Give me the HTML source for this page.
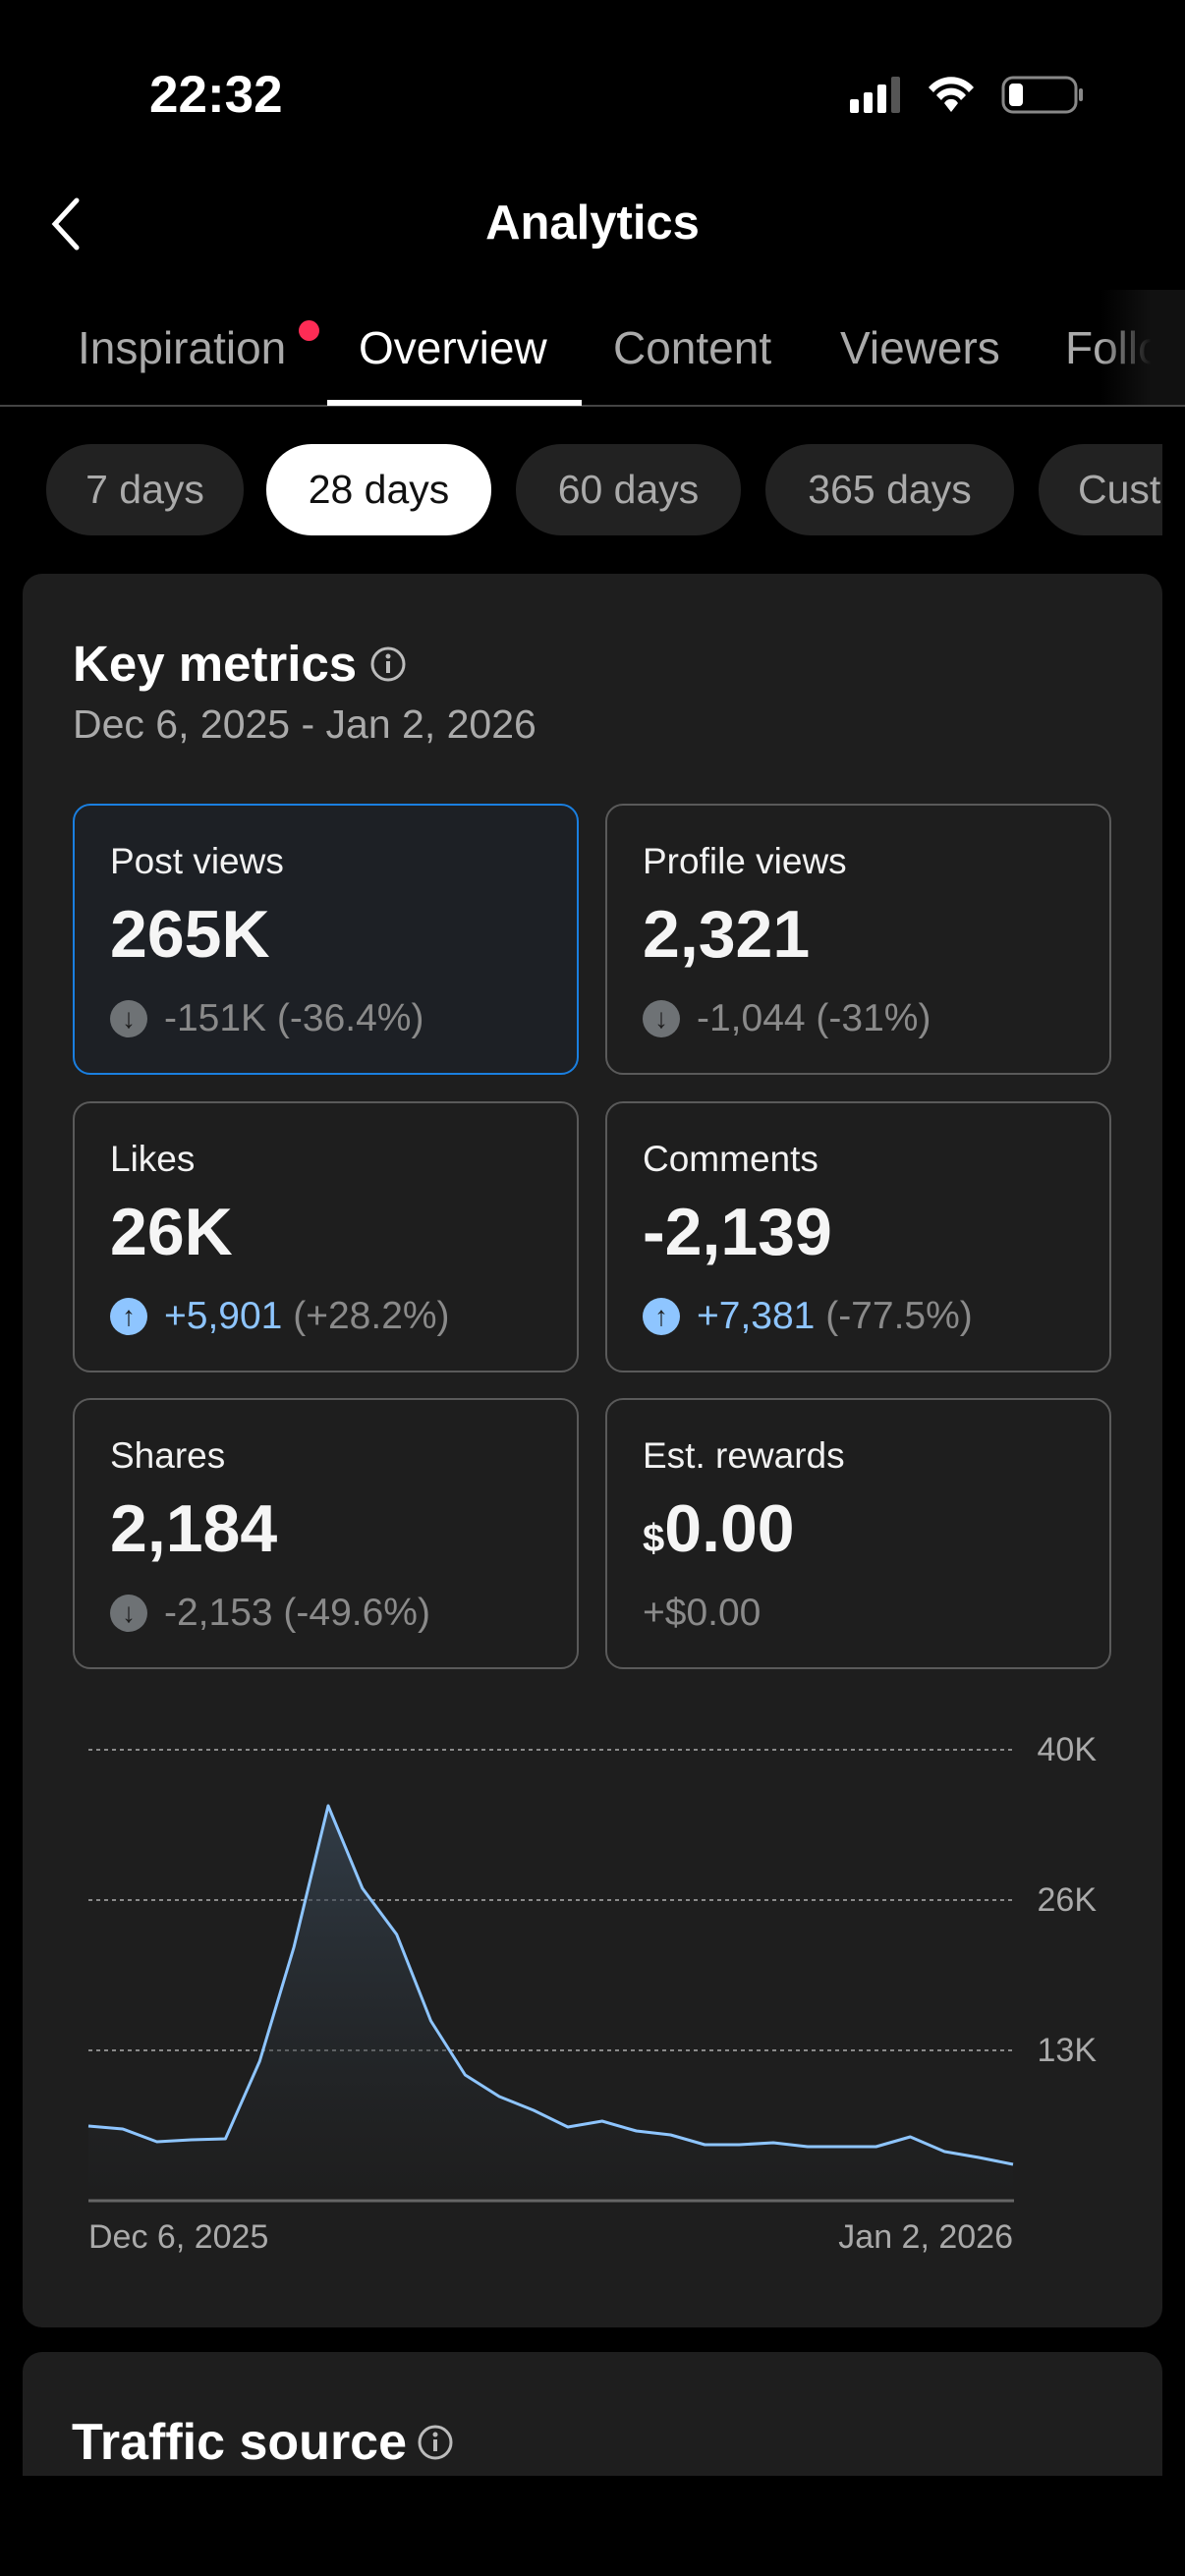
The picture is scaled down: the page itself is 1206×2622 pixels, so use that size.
<!DOCTYPE html>
<html><head><meta charset="utf-8"><style>
*{margin:0;padding:0;box-sizing:border-box}
body{width:1206px;height:2622px;background:#000;position:relative;overflow:hidden;font-family:"Liberation Sans",sans-serif;color:#fff}
.t{position:absolute;white-space:nowrap;line-height:1.2}
.pill{position:absolute;top:452px;height:93px;border-radius:46px;background:#222;color:#aaa;font-size:41px;display:flex;align-items:center;justify-content:center}
.box{position:absolute;width:515px;height:276px;border:2px solid #5a5a5a;border-radius:18px}
.box .l{position:absolute;left:36px;top:36px;font-size:37px;color:#f2f2f2}
.box .v{position:absolute;left:36px;top:92px;font-size:68px;font-weight:bold;color:#f5f5f5}
.box .d{position:absolute;left:36px;top:195px;font-size:39px;color:#8a8a8a;display:flex;align-items:center}
.ic{width:38px;height:38px;border-radius:50%;display:inline-flex;align-items:center;justify-content:center;margin-right:17px;font-size:28px;font-weight:bold}
.dn{background:#6e7275;color:#1e1e1e}
.up{background:#8ec5ff;color:#1e1e1e}
</style></head><body>
<div class="t" style="left:152px;top:65px;font-size:53px;font-weight:bold">22:32</div>
<svg style="position:absolute;left:860px;top:75px" width="250" height="45">
<rect x="5" y="26" width="9" height="14" rx="2" fill="#fff"/><rect x="19" y="19" width="9" height="21" rx="2" fill="#fff"/><rect x="33" y="11" width="9" height="29" rx="2" fill="#fff"/><rect x="47" y="3" width="9" height="37" rx="2" fill="#555"/>
<path d="M85 14 a30 30 0 0 1 46 0 l-5 5 a23 23 0 0 0 -36 0z M93 22 a19 19 0 0 1 30 0 l-5 5 a12 12 0 0 0 -20 0z M101 30 a8 8 0 0 1 14 0 l-7 9z" fill="#fff"/>
<rect x="161" y="4" width="74" height="35" rx="10" fill="none" stroke="#888" stroke-width="3"/><rect x="167" y="10" width="14" height="23" rx="4" fill="#fff"/><rect x="238" y="15" width="4" height="13" rx="2" fill="#888"/>
</svg>
<svg style="position:absolute;left:48px;top:200px" width="40" height="56"><path d="M30 4 L8 28 L30 52" fill="none" stroke="#fff" stroke-width="5" stroke-linecap="round"/></svg>
<div class="t" style="left:0;width:1206px;text-align:center;top:198px;font-size:49px;font-weight:bold">Analytics</div>
<div class="t" style="left:79px;top:327px;font-size:46px;color:#aaa">Inspiration</div>
<div style="position:absolute;left:304px;top:326px;width:21px;height:21px;border-radius:50%;background:#fe2c55"></div>
<div class="t" style="left:365px;top:327px;font-size:46px;color:#fff">Overview</div>
<div class="t" style="left:624px;top:327px;font-size:46px;color:#aaa">Content</div>
<div class="t" style="left:855px;top:327px;font-size:46px;color:#aaa">Viewers</div>
<div class="t" style="left:1084px;top:327px;font-size:46px;color:#aaa">Follow</div>
<div style="position:absolute;left:1120px;top:295px;width:86px;height:118px;background:linear-gradient(90deg,rgba(0,0,0,0),#111 60%)"></div>
<div style="position:absolute;left:0;top:412px;width:1206px;height:2px;background:#444"></div>
<div style="position:absolute;left:333px;top:407px;width:259px;height:6px;background:#fff"></div>
<div class="pill" style="left:47px;width:201px">7 days</div>
<div class="pill" style="left:271px;width:229px;background:#fff;color:#111">28 days</div>
<div class="pill" style="left:525px;width:229px">60 days</div>
<div class="pill" style="left:779px;width:253px">365 days</div>
<div class="pill" style="left:1057px;width:200px;justify-content:flex-start;padding-left:40px;border-radius:46px 0 0 46px">Cust</div>
<div style="position:absolute;left:1183px;top:440px;width:23px;height:120px;background:#000"></div>
<div style="position:absolute;left:23px;top:584px;width:1160px;height:1785px;background:#1e1e1e;border-radius:20px"></div>
<div class="t" style="left:74px;top:645px;font-size:51px;font-weight:bold">Key metrics</div>
<svg style="position:absolute;left:376px;top:657px" width="38" height="38"><circle cx="19" cy="19" r="16" fill="none" stroke="#bbb" stroke-width="3"/><rect x="17" y="16" width="4" height="12" fill="#bbb"/><circle cx="19" cy="11" r="2.5" fill="#bbb"/></svg>
<div class="t" style="left:74px;top:713px;font-size:41px;color:#aaa">Dec 6, 2025 - Jan 2, 2026</div>
<div class="box" style="left:74px;top:818px;border-color:#1a7fe0;background:#1d2025"><div class="l">Post views</div><div class="v">265K</div><div class="d"><span class="ic dn">↓</span>-151K (-36.4%)</div></div>
<div class="box" style="left:616px;top:818px"><div class="l">Profile views</div><div class="v">2,321</div><div class="d"><span class="ic dn">↓</span>-1,044 (-31%)</div></div>
<div class="box" style="left:74px;top:1121px"><div class="l">Likes</div><div class="v">26K</div><div class="d"><span class="ic up">↑</span><span style="color:#8ec5ff">+5,901</span>&nbsp;(+28.2%)</div></div>
<div class="box" style="left:616px;top:1121px"><div class="l">Comments</div><div class="v">-2,139</div><div class="d"><span class="ic up">↑</span><span style="color:#8ec5ff">+7,381</span>&nbsp;(-77.5%)</div></div>
<div class="box" style="left:74px;top:1423px"><div class="l">Shares</div><div class="v">2,184</div><div class="d"><span class="ic dn">↓</span>-2,153 (-49.6%)</div></div>
<div class="box" style="left:616px;top:1423px"><div class="l">Est. rewards</div><div class="v"><span style="font-size:40px">$</span>0.00</div><div class="d">+$0.00</div></div>
<svg style="position:absolute;left:0;top:0" width="1206" height="2622">
<defs><linearGradient id="g" x1="0" y1="0" x2="0" y2="1"><stop offset="0" stop-color="#3a4a5a" stop-opacity="0.7"/><stop offset="1" stop-color="#1e1e1e" stop-opacity="0.3"/></linearGradient></defs>
<g stroke="#8a8a8a" stroke-width="2" stroke-dasharray="4 4"><line x1="90" y1="1781" x2="1032" y2="1781"/><line x1="90" y1="1934" x2="1032" y2="1934"/><line x1="90" y1="2087" x2="1032" y2="2087"/></g>
<polygon fill="url(#g)" points="90,2240 90,2164 124.9,2167 159.7,2180 194.6,2178 229.4,2177 264.3,2098 299.1,1982 334,1838 368.8,1922 403.7,1969 438.5,2057 473.4,2112 508.2,2134 543.1,2148 577.9,2165 612.8,2159 647.6,2169 682.5,2173 717.3,2183 752.2,2183 787,2181 821.9,2185 856.7,2185 891.6,2185 926.4,2175 961.3,2190 996.1,2196 1031,2203 1031,2240"/>
<polyline fill="none" stroke="#8ec5ff" stroke-width="3" stroke-linejoin="round" points="90,2164 124.9,2167 159.7,2180 194.6,2178 229.4,2177 264.3,2098 299.1,1982 334,1838 368.8,1922 403.7,1969 438.5,2057 473.4,2112 508.2,2134 543.1,2148 577.9,2165 612.8,2159 647.6,2169 682.5,2173 717.3,2183 752.2,2183 787,2181 821.9,2185 856.7,2185 891.6,2185 926.4,2175 961.3,2190 996.1,2196 1031,2203"/>
<line x1="90" y1="2240" x2="1032" y2="2240" stroke="#666" stroke-width="3"/>
<g font-family="Liberation Sans, sans-serif" font-size="34" fill="#aaa"><text x="1116" y="1792" text-anchor="end">40K</text><text x="1116" y="1945" text-anchor="end">26K</text><text x="1116" y="2098" text-anchor="end">13K</text>
<text x="90" y="2288">Dec 6, 2025</text><text x="1031" y="2288" text-anchor="end">Jan 2, 2026</text></g>
</svg>
<div style="position:absolute;left:23px;top:2394px;width:1160px;height:126px;background:#1e1e1e;border-radius:20px 20px 0 0"></div>
<div class="t" style="left:73px;top:2455px;font-size:52px;font-weight:bold">Traffic source</div>
<svg style="position:absolute;left:424px;top:2467px" width="38" height="38"><circle cx="19" cy="19" r="16" fill="none" stroke="#bbb" stroke-width="3"/><rect x="17" y="16" width="4" height="12" fill="#bbb"/><circle cx="19" cy="11" r="2.5" fill="#bbb"/></svg>
</body></html>
